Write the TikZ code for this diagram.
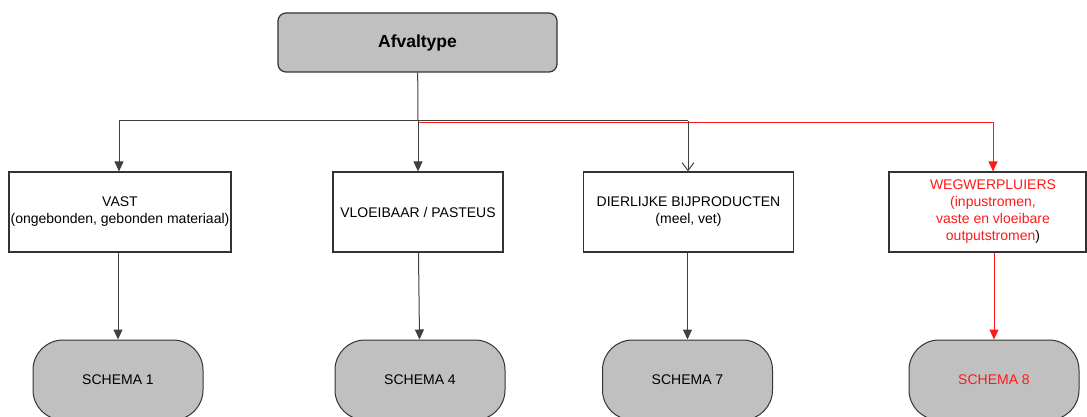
\documentclass[tikz,border=0pt]{standalone}
\usepackage{fontspec}
\setmainfont{Liberation Sans}
\usetikzlibrary{arrows.meta}
\definecolor{boxgray}{HTML}{C0C0C0}
\definecolor{wegred}{HTML}{FF1A1A}
\begin{document}
\begin{tikzpicture}[x=1pt,y=-1pt,
    every node/.style={font=\fontsize{14}{17}\selectfont, align=center, inner sep=0pt},
    typebox/.style={draw=black!80, line width=1.2pt, fill=boxgray, rounded corners=8pt,
      minimum width=279pt, minimum height=59pt, font=\fontsize{17.5}{20}\selectfont\bfseries},
    catbox/.style={draw=black!80, line width=1.2pt, fill=white, minimum height=80pt},
    schemabox/.style={draw=black!80, line width=1pt, fill=boxgray, rounded corners=30pt,
      minimum width=170pt, minimum height=80pt},
    tip/.style={-{Triangle[width=9pt,length=10pt]}},
    opentip/.style={-{Straight Barb[width=12pt,length=8pt]}}]
  \useasboundingbox (0,0) rectangle (1087,417);
  \node[typebox] (type) at (417.5,42.5) {Afvaltype};
  \node[catbox, minimum width=222pt] (vast) at (120,212) {VAST\\(ongebonden, gebonden materiaal)};
  \node[catbox, minimum width=170pt] (vloei) at (418,212) {VLOEIBAAR / PASTEUS};
  \node[catbox, minimum width=210pt] (dier) at (688.5,212) {DIERLIJKE BIJPRODUCTEN\\(meel, vet)};
  \node[catbox, minimum width=197pt] (weg) at (987.5,212) {};
  \node[text=wegred] (wegtxt) at (993,212)
    {WEGWERPLUIERS\\(inpustromen,\\vaste en vloeibare\\outputstromen\textcolor{black}{)}};
  \node[schemabox] (s1) at (118,380) {SCHEMA 1};
  \node[schemabox] (s4) at (420,380) {SCHEMA 4};
  \node[schemabox] (s7) at (687.5,380) {SCHEMA 7};
  \node[schemabox, text=wegred] (s8) at (994,380) {SCHEMA 8};
  \coordinate (split) at (418,121);
  \coordinate (left) at (119,121);
  \coordinate (mid) at (688,121);
  \coordinate (splitred) at (418,122.2);
  \coordinate (right) at (993,122.2);
  \begin{scope}[line width=1pt, draw=black!75]
    \draw (type) -- (split);
    \draw (left) -- (mid);
    \draw[wegred, line width=1.3pt] (splitred) -- (right);
    \draw[tip] (left) -- (left |- vast.north);
    \draw[tip] (split) -- (vloei);
    \draw[opentip] (mid) -- (mid |- dier.north);
    \draw[tip, wegred] (right) -- (right |- weg.north);
    \draw[tip] (vast.south -| s1) -- (s1);
    \draw[tip] (vloei) -- (s4);
    \draw[tip] (dier.south -| s7) -- (s7);
    \draw[tip, wegred] (weg.south -| s8) -- (s8);
  \end{scope}
\end{tikzpicture}
\end{document}
